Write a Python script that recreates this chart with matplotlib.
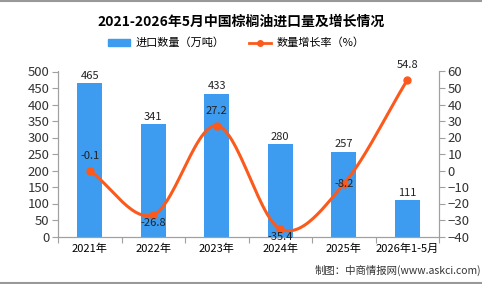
import numpy as np
import matplotlib
matplotlib.use("Agg")
import matplotlib.pyplot as plt
from matplotlib.lines import Line2D
from matplotlib.patches import Patch

plt.rcParams['font.family'] = ['Noto Sans CJK SC', 'DejaVu Sans']
plt.rcParams['axes.unicode_minus'] = True

years = ['2021年', '2022年', '2023年', '2024年', '2025年', '2026年1-5月']
volume = [465, 341, 433, 280, 257, 111]
growth = [-0.1, -26.8, 27.2, -35.4, -8.2, 54.8]

BAR_C = '#3d9cef'
LINE_C = '#fb5a1c'
GRAY = '#a0a0a0'


def smooth(xs, ys, n=30):
    # catmull-rom curve through the points, just for drawing
    xs = np.asarray(xs, float)
    ys = np.asarray(ys, float)
    px = np.concatenate([[2 * xs[0] - xs[1]], xs, [2 * xs[-1] - xs[-2]]])
    py = np.concatenate([[2 * ys[0] - ys[1]], ys, [2 * ys[-1] - ys[-2]]])
    ox, oy = [], []
    t = np.linspace(0, 1, n)
    for i in range(1, len(px) - 2):
        for p, out in ((px, ox), (py, oy)):
            p0, p1, p2, p3 = p[i - 1], p[i], p[i + 1], p[i + 2]
            out.extend(0.5 * (2 * p1 + (-p0 + p2) * t
                              + (2 * p0 - 5 * p1 + 4 * p2 - p3) * t ** 2
                              + (-p0 + 3 * p1 - 3 * p2 + p3) * t ** 3))
    return np.array(ox), np.array(oy)


fig = plt.figure(figsize=(4.82, 2.84), dpi=100)
ax = fig.add_axes([58 / 482, 1 - 236.5 / 284, 381 / 482, 165 / 284])
ax2 = ax.twinx()

x = np.arange(len(years))
ax.bar(x, volume, width=0.39, color=BAR_C, zorder=2)
ax.set_xlim(-0.5, len(years) - 0.5)
ax.set_ylim(0, 500)
ax.set_yticks(np.arange(0, 501, 50))
ax.set_xticks(np.arange(-0.5, len(years), 1.0), minor=False)
ax.set_xticklabels([])
ax.set_xticks(x, minor=True)
ax.set_xticklabels(years, minor=True)
ax.tick_params(axis='x', which='minor', length=0, labelsize=8, pad=5)
ax.tick_params(axis='x', which='major', length=4, color=GRAY)
ax.tick_params(axis='y', length=4, color=GRAY, labelsize=9.5, pad=2, labelcolor='#333333')

for i, v in enumerate(volume):
    ax.text(i, v + 22, str(v), ha='center', va='center', fontsize=8, color='#222222')

sx, sy = smooth(x, growth)
ax2.plot(sx, sy, color=LINE_C, lw=2.2, zorder=3)
ax2.plot(x, growth, 'o', color=LINE_C, ms=5, zorder=4)
ax2.set_ylim(-40, 60)
ax2.set_yticks(np.arange(-40, 61, 10))
ax2.tick_params(axis='y', length=4, color=GRAY, labelsize=9.5, pad=2, labelcolor='#333333')

offs = [9, -5, 9, -5, 0, 9]
for i, g in enumerate(growth):
    ax2.text(i, g + offs[i], f'{g:.1f}', ha='center', va='center', fontsize=8, color='#222222', zorder=5)

for a in (ax, ax2):
    a.spines['top'].set_visible(False)
    for s in ('left', 'right', 'bottom'):
        a.spines[s].set_color(GRAY)

fig.text(0.5, 1 - 22 / 284, '2021-2026年5月中国棕榈油进口量及增长情况', ha='center', va='center',
         fontsize=10, fontweight='bold')

handles = [Patch(color=BAR_C, label='进口数量（万吨）'),
           Line2D([], [], color=LINE_C, lw=2, marker='o', ms=4, label='数量增长率（%）')]
fig.legend(handles=handles, loc='center', bbox_to_anchor=(0.49, 1 - 43 / 284), ncol=2,
           frameon=False, fontsize=8, handlelength=2.0, handleheight=0.6, columnspacing=2.2,
           handletextpad=0.5)

fig.text(481 / 482, 1 - 270 / 284, '制图：中商情报网(www.askci.com)', ha='right', va='center',
         fontsize=7.5, color='#333333')

fig.add_artist(Line2D([0, 1], [0.998, 0.998], color='#999999', lw=1.5))
fig.add_artist(Line2D([0, 1], [0.003, 0.003], color='#999999', lw=1.5))

fig.savefig('out.png', dpi=100)
